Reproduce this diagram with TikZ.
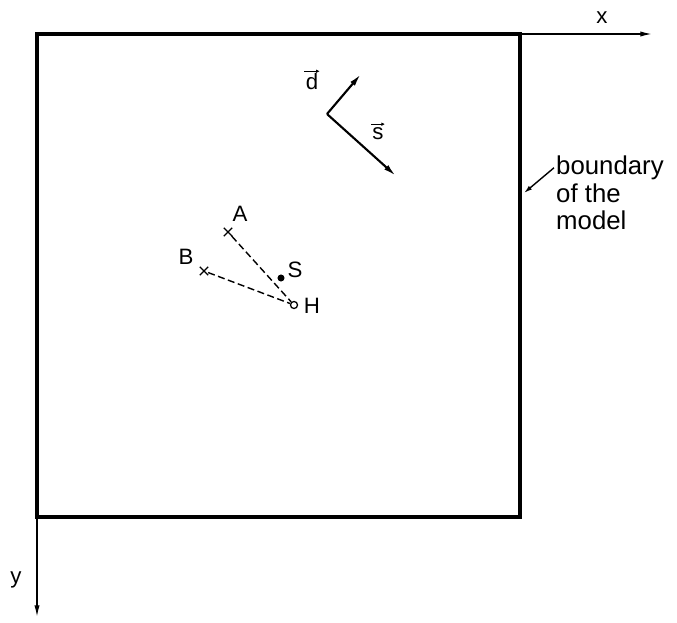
\documentclass[tikz,border=0pt]{standalone}
\usepackage{fontspec}
\setmainfont{Liberation Sans}
\usetikzlibrary{positioning, arrows.meta, shapes.misc}

\begin{document}
\begin{tikzpicture}[
    x=0.03cm, y=-0.03cm,
    axis/.style={line width=1.2pt, -{Latex[length=10pt, width=4.5pt]}},
    vect/.style={line width=1.8pt, -{Latex[length=11pt, width=5pt]}},
    accent/.style={line width=0.8pt, -{Latex[length=3pt, width=3pt]}},
    cross/.style={cross out, draw, minimum size=6pt, inner sep=0pt, line width=1.1pt},
    dot/.style={circle, fill, minimum size=6pt, inner sep=0pt},
    ring/.style={circle, draw, line width=1.1pt, fill=white, minimum size=6pt, inner sep=0pt},
    lbl/.style={font=\fontsize{19}{22}\selectfont, inner sep=1pt},
    txt/.style={font=\fontsize{22}{23.5}\selectfont, align=left, inner sep=0pt},
    link/.style={line width=1.2pt, dash pattern=on 6pt off 3pt}
]
\useasboundingbox (0,0) rectangle (677,623);

% model and axes
\coordinate (O) at (37,34);
\coordinate (xend) at (652,34);
\coordinate (yend) at (37,617);
\draw[line width=2.6pt] (O) rectangle (520,517);
\draw[axis] (O) -- (xend);
\draw[axis] (O) -- (yend);
\node[lbl] (xlbl) at (602,18) {x};
\node[lbl] (ylbl) at (16,580) {y};

% directions
\coordinate (p) at (327,114);
\coordinate (dtip) at (361,74);
\coordinate (stip) at (396,176);
\draw[vect] (p) -- (dtip);
\draw[vect] (p) -- (stip);
\node[lbl] (dlbl) at (312,82) {d};
\node[lbl] (slbl) at (378,134) {s};
\draw[accent] ([yshift=1pt]dlbl.north west) -- ([yshift=1pt]dlbl.north east);
\draw[accent] ([yshift=2pt]slbl.north west) -- ([yshift=2pt]slbl.north east);

% points
\node[cross] (a) at (228,232) {};
    \node[cross] (b) at (204,271) {};
    \node[dot] (s) at (281,278) {};
    \node[ring] (h) at (294,305) {};
\node[lbl] (albl) at (240,214) {A};
    \node[lbl] (blbl) at (186,257) {B};
    \node[lbl] (slbl2) at (295,270) {S};
    \node[lbl] (hlbl) at (312,306) {H};

\draw[link] (a) -- (h);
    \draw[link] (b) -- (h);

% boundary label
\node[txt, anchor=west] (bnd) at (556,193) {boundary\\of the\\model};
\coordinate (btip) at (524,193);
\draw[line width=1.2pt, -{Latex[length=7pt, width=4pt]}] (bnd.north west) ++(-2,12) coordinate (btail) -- (btip);
\end{tikzpicture}
\end{document}
